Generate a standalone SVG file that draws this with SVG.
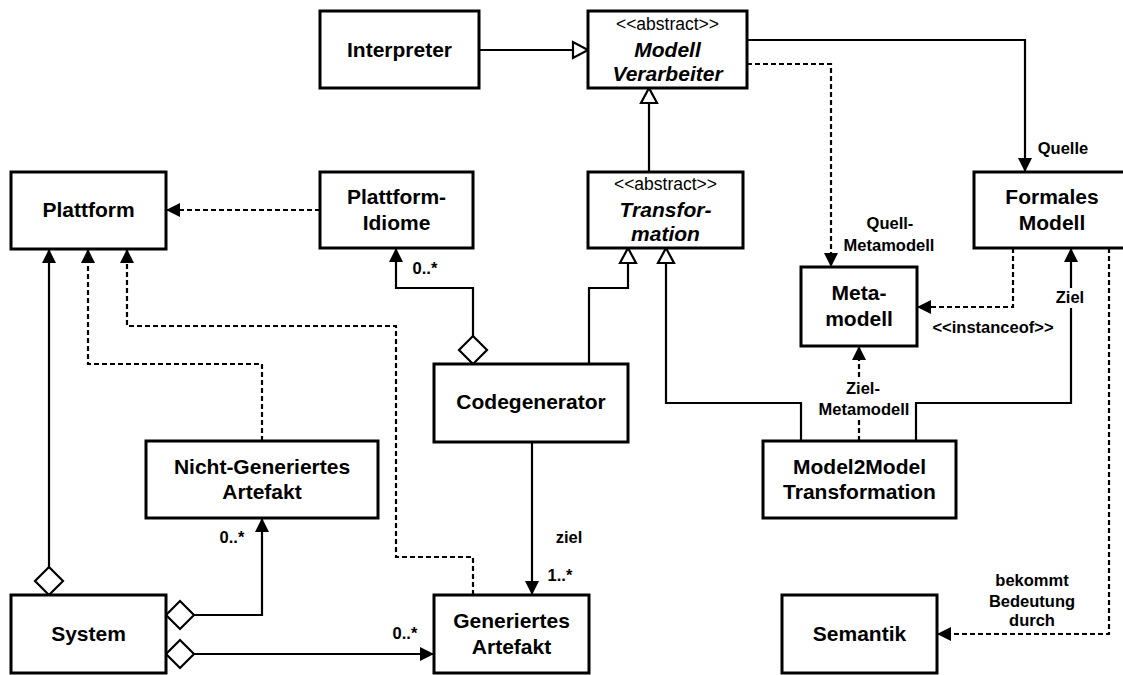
<svg xmlns="http://www.w3.org/2000/svg" width="1123" height="675" viewBox="0 0 1123 675">
<defs>
<style>
.box{fill:#fff;stroke:#000;stroke-width:3}
.t{font-family:"Liberation Sans",Arial,sans-serif;font-weight:bold;font-size:21px;text-anchor:middle;fill:#000}
.ti{font-style:italic}
.st{font-family:"Liberation Sans",Arial,sans-serif;font-size:17.5px;text-anchor:middle;fill:#000}
.lb{font-family:"Liberation Sans",Arial,sans-serif;font-weight:bold;font-size:16.5px;text-anchor:middle;fill:#000}
.c{fill:none;stroke:#000;stroke-width:2.2}
.d{stroke-dasharray:5,3}
</style>
<marker id="arrow" markerUnits="userSpaceOnUse" orient="auto" refX="0" refY="0" markerWidth="20" markerHeight="20" overflow="visible">
<path d="M0,0 L-14,-7 L-14,7 z" fill="#000"/>
</marker>
<marker id="hollow" markerUnits="userSpaceOnUse" orient="auto" refX="0" refY="0" markerWidth="20" markerHeight="20" overflow="visible">
<path d="M0,0 L-15,-8 L-15,8 z" fill="#fff" stroke="#000" stroke-width="2.2"/>
</marker>
<marker id="diamond" markerUnits="userSpaceOnUse" orient="auto" refX="0" refY="0" markerWidth="30" markerHeight="30" overflow="visible">
<path d="M0,0 L14,-14 L28,0 L14,14 z" fill="#fff" stroke="#000" stroke-width="2.2"/>
</marker>
</defs>
<rect width="1123" height="675" fill="#fff"/>

<g id="connectors">
<path class="c" d="M479,50 L588,50" marker-end="url(#hollow)"/>
<path class="c" d="M649,172 L649,88" marker-end="url(#hollow)"/>
<path class="c" d="M747,40 L1025,40 L1025,172" marker-end="url(#arrow)"/>
<path class="c d" d="M747,64 L831,64 L831,267" marker-end="url(#arrow)"/>
<path class="c d" d="M320,210 L166,210" marker-end="url(#arrow)"/>
<path class="c" d="M589,364 L589,288 L628,288 L628,248" marker-end="url(#hollow)"/>
<path class="c" d="M801,441 L801,403 L666,403 L666,248" marker-end="url(#hollow)"/>
<path class="c" d="M473,364 L473,288 L396,288 L396,248" marker-start="url(#diamond)" marker-end="url(#arrow)"/>
<path class="c" d="M532,442 L532,595" marker-end="url(#arrow)"/>
<path class="c d" d="M473,595 L473,557 L396,557 L396,326 L127,326 L127,249" marker-end="url(#arrow)"/>
<path class="c d" d="M262,441 L262,364 L88,364 L88,249" marker-end="url(#arrow)"/>
<path class="c" d="M49,595 L49,249" marker-start="url(#diamond)" marker-end="url(#arrow)"/>
<path class="c" d="M166,615 L262,615 L262,518" marker-start="url(#diamond)" marker-end="url(#arrow)"/>
<path class="c" d="M166,654 L434,654" marker-start="url(#diamond)" marker-end="url(#arrow)"/>
<path class="c d" d="M1013,248 L1013,307 L917,307" marker-end="url(#arrow)"/>
<path class="c" d="M916,441 L916,403 L1071,403 L1071,248" marker-end="url(#arrow)"/>
<path class="c d" d="M859,441 L859,346" marker-end="url(#arrow)"/>
<path class="c d" d="M1109,248 L1109,634 L937,634" marker-end="url(#arrow)"/>
<rect x="1053" y="288" width="36" height="20" fill="#fff"/>
<rect x="825" y="378" width="78" height="42" fill="#fff"/>
<text class="lb" x="1063" y="154">Quelle</text>
<text class="lb" x="890" y="229">Quell-</text>
<text class="lb" x="889" y="251">Metamodell</text>
<text class="lb" x="993" y="333">&lt;&lt;instanceof&gt;&gt;</text>
<text class="lb" x="1070" y="303">Ziel</text>
<text class="lb" x="863" y="394">Ziel-</text>
<text class="lb" x="864" y="415">Metamodell</text>
<text class="lb" x="1032" y="586">bekommt</text>
<text class="lb" x="1032" y="607">Bedeutung</text>
<text class="lb" x="1032" y="626">durch</text>
<text class="lb" x="569" y="543">ziel</text>
<text class="lb" x="560" y="581">1..*</text>
<text class="lb" x="425" y="274">0..*</text>
<text class="lb" x="232" y="543">0..*</text>
<text class="lb" x="405" y="639">0..*</text>
</g>

<g id="interpreter"><rect class="box" x="320" y="11" width="159" height="77"/><text class="t" x="399.5" y="57">Interpreter</text></g>
<g id="modellverarbeiter"><rect class="box" x="588" y="11" width="159" height="77"/><text class="st" x="667.5" y="30">&lt;&lt;abstract&gt;&gt;</text><text class="t ti" x="667.5" y="57">Modell</text><text class="t ti" x="667.5" y="81">Verarbeiter</text></g>
<g id="plattform"><rect class="box" x="11" y="172" width="155" height="77"/><text class="t" x="88.5" y="217">Plattform</text></g>
<g id="plattformidiome"><rect class="box" x="320" y="172" width="153" height="76"/><text class="t" x="396.5" y="204">Plattform-</text><text class="t" x="396.5" y="230">Idiome</text></g>
<g id="transformation"><rect class="box" x="588" y="172" width="155" height="76"/><text class="st" x="665.5" y="190">&lt;&lt;abstract&gt;&gt;</text><text class="t ti" x="665.5" y="217">Transfor-</text><text class="t ti" x="665.5" y="241">mation</text></g>
<g id="formalesmodell"><rect class="box" x="974" y="172" width="160" height="76"/><text class="t" x="1052" y="204">Formales</text><text class="t" x="1052" y="230">Modell</text></g>
<g id="metamodell"><rect class="box" x="801" y="267" width="116" height="79"/><text class="t" x="859" y="300">Meta-</text><text class="t" x="859" y="326">modell</text></g>
<g id="codegenerator"><rect class="box" x="434" y="364" width="194" height="78"/><text class="t" x="531" y="409">Codegenerator</text></g>
<g id="nichtgeneriert"><rect class="box" x="146" y="441" width="232" height="77"/><text class="t" x="262" y="474">Nicht-Generiertes</text><text class="t" x="262" y="499">Artefakt</text></g>
<g id="model2model"><rect class="box" x="763" y="441" width="193" height="77"/><text class="t" x="859.5" y="474">Model2Model</text><text class="t" x="859.5" y="499">Transformation</text></g>
<g id="system"><rect class="box" x="11" y="595" width="155" height="78"/><text class="t" x="88.5" y="641">System</text></g>
<g id="generiert"><rect class="box" x="434" y="595" width="155" height="78"/><text class="t" x="511.5" y="628">Generiertes</text><text class="t" x="511.5" y="654">Artefakt</text></g>
<g id="semantik"><rect class="box" x="782" y="595" width="155" height="78"/><text class="t" x="859.5" y="641">Semantik</text></g>
</svg>
